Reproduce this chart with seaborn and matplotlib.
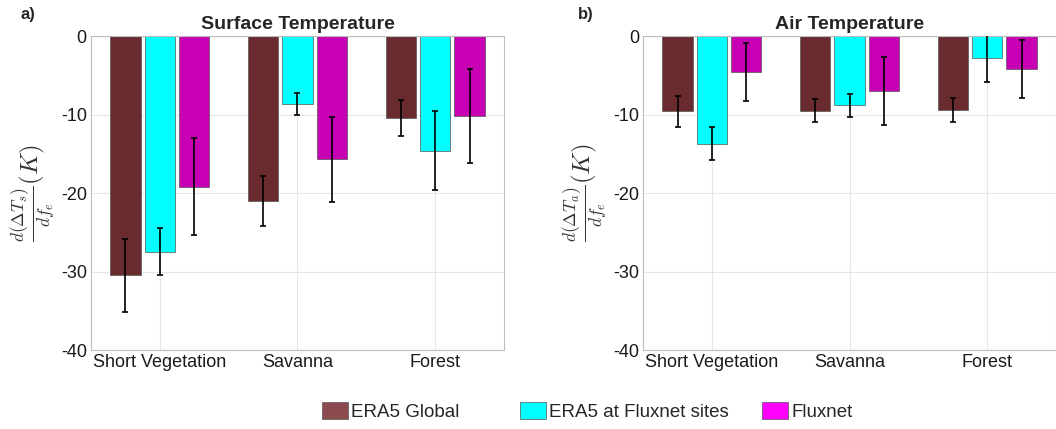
import pandas as pd
import matplotlib.pyplot as plt
import seaborn as sns
from matplotlib.patches import Patch

sns.set_style("white")
plt.rcParams['font.family'] = ['Liberation Sans', 'DejaVu Sans']
plt.rcParams['mathtext.fontset'] = 'cm'

# data
categories = ['Short Vegetation', 'Savanna', 'Forest']
sources = ['ERA5 Global', 'ERA5 at Fluxnet sites', 'Fluxnet']

surf_global = [-30.5, -21.0, -10.4]
surf_sites = [-27.5, -8.7, -14.6]
surf_flux = [-19.2, -15.7, -10.2]
surf_global_err = [4.6, 3.2, 2.3]
surf_sites_err = [3.0, 1.4, 5.0]
surf_flux_err = [6.2, 5.4, 6.0]

air_global = [-9.6, -9.5, -9.4]
air_sites = [-13.7, -8.8, -2.8]
air_flux = [-4.6, -7.0, -4.2]
air_global_err = [2.0, 1.5, 1.5]
air_sites_err = [2.1, 1.45, 3.0]
air_flux_err = [3.7, 4.35, 3.65]

bar_colors = ['#6a2b2f', '#00ffff', '#c800b4']
legend_colors = ['#8b4a4e', '#00ffff', '#ff00ff']


def make_df(vals, errs):
    rows = []
    for s, v, e in zip(sources, vals, errs):
        for c, x, ee in zip(categories, v, e):
            rows.append({'Type': c, 'Source': s, 'Value': x, 'Err': ee})
    return pd.DataFrame(rows)


df_surf = make_df([surf_global, surf_sites, surf_flux],
                  [surf_global_err, surf_sites_err, surf_flux_err])
df_air = make_df([air_global, air_sites, air_flux],
                 [air_global_err, air_sites_err, air_flux_err])

fig = plt.figure(figsize=(10.56, 4.29), dpi=100)
ax1 = fig.add_axes([0.0862, 0.184, 0.391, 0.732])
ax2 = fig.add_axes([0.609, 0.184, 0.391, 0.732])

panels = [
    (ax1, df_surf, 'Surface Temperature', r'$\frac{d(\Delta T_s)}{df_e}(K)$', 'a)', -0.172),
    (ax2, df_air, 'Air Temperature', r'$\frac{d(\Delta T_a)}{df_e}(K)$', 'b)', -0.157),
]

for ax, df, title, ylab, tag, tag_x in panels:
    sns.barplot(data=df, x='Type', y='Value', hue='Source', order=categories,
                hue_order=sources, palette=bar_colors, saturation=1,
                width=0.75, gap=0.12, errorbar=None, edgecolor='#555555',
                linewidth=0.5, legend=False, ax=ax, zorder=2)
    # error bars at bar centres
    for src, cont in zip(sources, ax.containers):
        sub = df[df['Source'] == src].set_index('Type').loc[categories]
        xs = [b.get_x() + b.get_width() / 2 for b in cont]
        ax.errorbar(xs, sub['Value'], yerr=sub['Err'], fmt='none',
                    ecolor='black', elinewidth=1.2, capsize=2.5,
                    capthick=1.2, zorder=3)
    ax.set_xlim(-0.5, 2.5)
    ax.set_ylim(-40, 0)
    ax.set_yticks([0, -10, -20, -30, -40])
    ax.set_yticklabels(['0', '-10', '-20', '-30', '-40'])
    ax.grid(True, color='#e6e6e6', linewidth=0.8, zorder=0)
    ax.set_axisbelow(True)
    for sp in ax.spines.values():
        sp.set_color('#bdbdbd')
        sp.set_linewidth(0.8)
    ax.tick_params(axis='both', direction='in', length=3, color='#bdbdbd',
                   labelsize=13, labelcolor='#1a1a1a', pad=3)
    ax.set_xlabel('')
    ax.set_ylabel(ylab, fontsize=18, color='#333333', labelpad=2)
    ax.set_title(title, fontsize=14, fontweight='bold', pad=5)
    ax.text(tag_x, 1.07, tag, transform=ax.transAxes, fontsize=12,
            fontweight='bold', ha='left', va='center')

# legend entries placed one by one, as in the original layout
legend_x = [0.305, 0.4924, 0.7216]
for c, lab, lx in zip(legend_colors, sources, legend_x):
    h = Patch(facecolor=c, edgecolor='#555555', linewidth=0.5)
    fig.legend([h], [lab], loc='center left', bbox_to_anchor=(lx, 0.04),
               frameon=False, fontsize=13.5, handlelength=1.4,
               handleheight=1.0, handletextpad=0.15, borderpad=0,
               borderaxespad=0)

plt.savefig('out.png', dpi=100)
